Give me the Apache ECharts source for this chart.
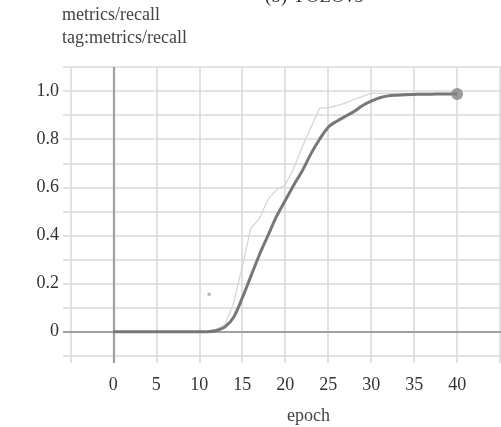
<!DOCTYPE html>
<html>
<head>
<meta charset="utf-8">
<script src="https://cdn.jsdelivr.net/npm/echarts@6/dist/echarts.min.js"></script>
<style>
html,body{margin:0;padding:0;background:#fff;}
#c{width:501px;height:427px;}
</style>
</head>
<body>
<div id="c"></div>
<script>
// ---- data ----
const epochs = [0,1,2,3,4,5,6,7,8,9,10,11,12,13,14,15,16,17,18,19,20,21,22,23,24,25,26,27,28,29,30,31,32,33,34,35,36,37,38,39,40];
const smoothedRecall = [0,0,0,0,0,0,0,0,0,0,0,0,0.005,0.02,0.06,0.14,0.23,0.32,0.40,0.48,0.545,0.61,0.67,0.74,0.80,0.85,0.875,0.895,0.915,0.94,0.958,0.972,0.98,0.983,0.985,0.986,0.987,0.987,0.988,0.988,0.988];
const rawRecall = [0,0,0,0,0,0,0,0,0,0,0,0,0.01,0.03,0.12,0.27,0.43,0.47,0.55,0.59,0.61,0.68,0.77,0.85,0.93,0.93,0.94,0.95,0.965,0.978,0.99,0.99,0.99,0.99,0.99,0.99,0.99,0.99,0.99,0.99,0.99];
const outlierPoint = [11.15, 0.156];
const xGridTicks = [-5,0,5,10,15,20,25,30,35,40,45];
const xTickLabels = [0,5,10,15,20,25,30,35,40];
const yGridTicks = [-0.1,0,0.1,0.2,0.3,0.4,0.5,0.6,0.7,0.8,0.9,1.0,1.1];
const yTickLabels = [0,0.2,0.4,0.6,0.8,1.0];

const FONT = '"Liberation Serif", "DejaVu Serif", serif';
const chart = echarts.init(document.getElementById('c'), null, {renderer:'canvas'});

const smoothPairs = epochs.map((e,i)=>[e, smoothedRecall[i]]);
const rawPairs = epochs.map((e,i)=>[e, rawRecall[i]]);
const last = epochs.length-1;

chart.setOption({
  animation:false,
  backgroundColor:'#fff',
  grid:{left:63,right:0,top:67,bottom:64,containLabel:false},
  xAxis:{
    type:'value', min:-5.85, max:45.1,
    axisLine:{show:false},
    axisTick:{show:false, customValues:xGridTicks},
    axisLabel:{customValues:xTickLabels, margin:13, fontFamily:FONT, fontSize:18, color:'#333'},
    splitLine:{show:true, lineStyle:{color:'#dadada', width:1.6}}
  },
  yAxis:{
    type:'value', min:-0.13, max:1.1,
    axisLine:{show:false},
    axisTick:{show:false, customValues:yGridTicks},
    axisLabel:{customValues:yTickLabels, margin:4, fontFamily:FONT, fontSize:18, color:'#333',
      formatter:function(v){return v===0?'0':v.toFixed(1);}},
    splitLine:{show:true, lineStyle:{color:'#dadada', width:1.6}}
  },
  graphic:[
    {type:'text', left:265, top:-12, style:{text:'(b) YOLOv5', font:'19px '+FONT, fill:'#333'}},
    {type:'text', left:62, top:6, style:{text:'metrics/recall', font:'18px '+FONT, fill:'#444'}},
    {type:'text', left:62, top:29, style:{text:'tag:metrics/recall', font:'18px '+FONT, fill:'#444'}},
    {type:'text', left:287, top:407, style:{text:'epoch', font:'18px '+FONT, fill:'#444'}}
  ],
  series:[
    {
      type:'line', data:rawPairs, symbol:'none', smooth:false,
      lineStyle:{color:'#d6d6d6', width:1.3}, z:3,
      markLine:{
        silent:true, symbol:'none', label:{show:false}, animation:false,
        lineStyle:{color:'#a0a0a0', width:2.2, type:'solid'},
        data:[{xAxis:0},{yAxis:0}]
      }
    },
    {
      type:'line', data:smoothPairs, symbol:'none', smooth:0.3,
      lineStyle:{color:'#777777', width:3}, z:5
    },
    {
      type:'scatter', data:[smoothPairs[last]], symbol:'circle', symbolSize:12,
      itemStyle:{color:'#858585'}, z:6
    },
    {
      type:'scatter', data:[outlierPoint], symbolSize:3.5,
      itemStyle:{color:'#a0a0a0'}, z:6
    }
  ]
});
</script>
</body>
</html>
